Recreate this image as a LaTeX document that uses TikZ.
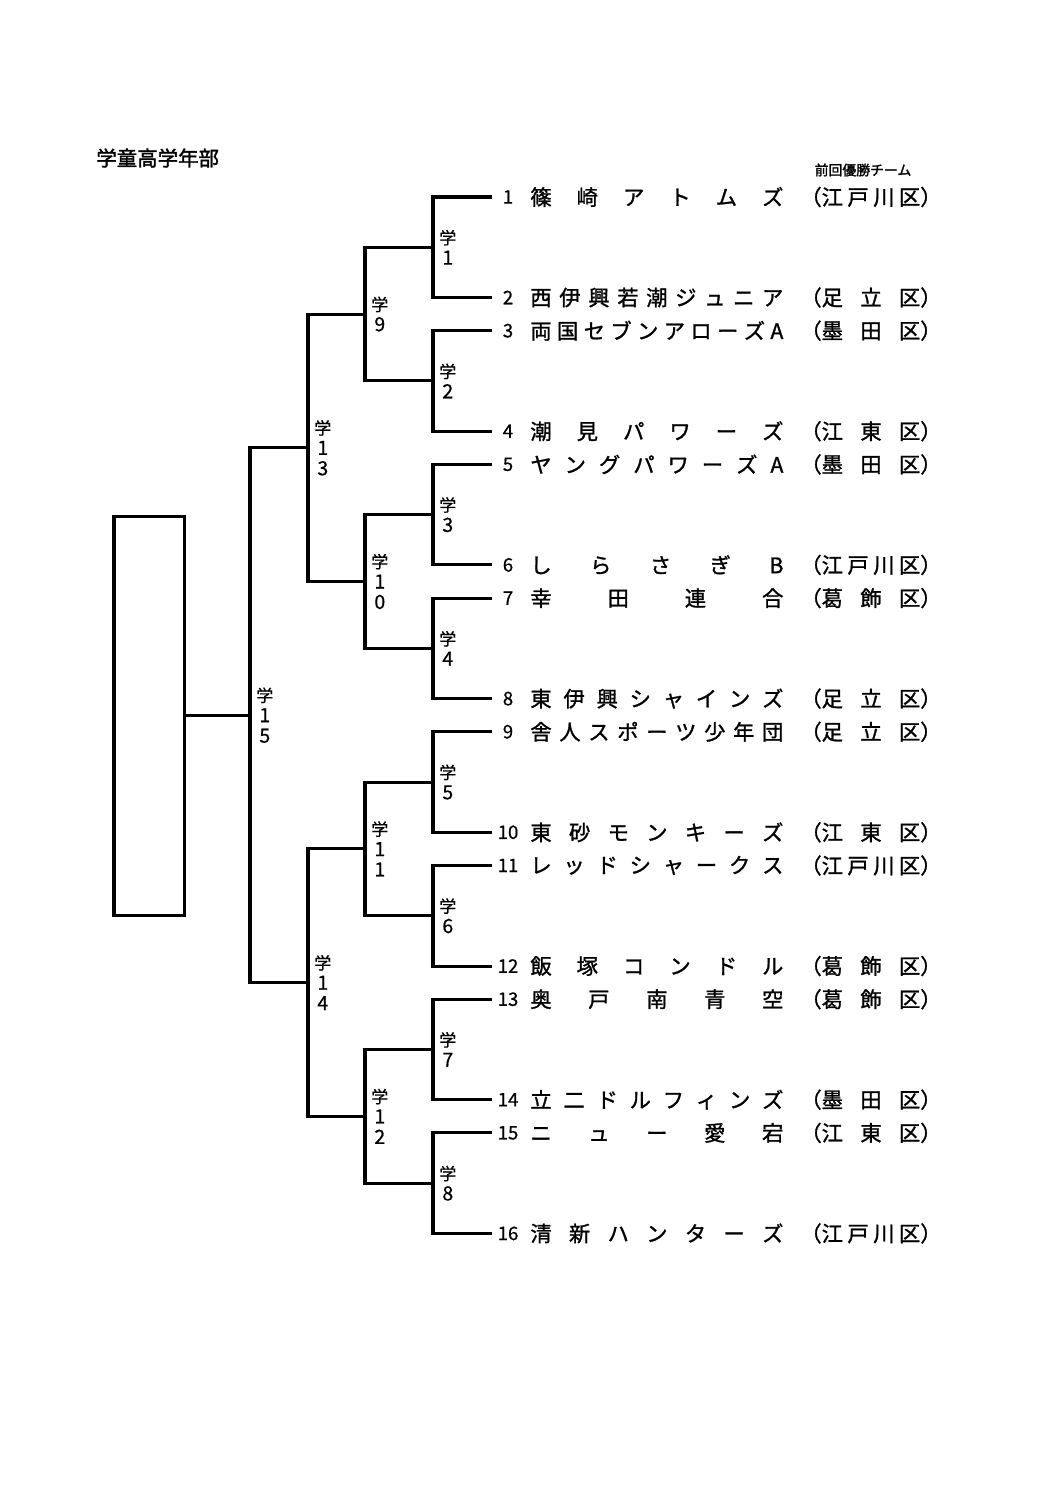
\documentclass[tikz,border=0pt]{standalone}
\usetikzlibrary{calc}
\usepackage{fontspec}
\setmainfont{Noto Sans CJK JP}
\newfontfamily\jpbold[FakeBold=1.8]{Noto Sans CJK JP}
\newfontfamily\jpteam[FakeBold=1.2]{Noto Sans CJK JP}
\newfontfamily\jpnum[FakeBold=0.6]{Noto Sans CJK JP}

% spread the letters of a name over a fixed width
\let\endspread\relax
\def\spreadchars#1{\spreadloop#1\endspread}
\def\spreadloop#1#2{#1\ifx#2\endspread\else\hfill\expandafter\spreadloop\expandafter#2\fi}

\begin{document}
\begin{tikzpicture}[x=0.5627pt,y=-0.5627pt]
\useasboundingbox (0,0) rectangle (1058,1497);

\def\pairgap{100.5}
\def\blockgap{133.7}
\def\firsty{197}

\tikzstyle{bracket}=[line width=1.7pt]
\tikzstyle{num}=[inner sep=0pt,font=\jpnum\fontsize{10.5}{12}\selectfont]
\tikzstyle{team}=[inner sep=0pt,anchor=west,font=\jpteam\fontsize{12}{14}\selectfont]
\tikzstyle{roundlabel}=[inner sep=0pt,anchor=west,align=center,font=\jpnum\fontsize{11}{11.5}\selectfont]
\def\gaku{{\fontsize{9.5}{11.5}\selectfont 学}}

%title
\node[anchor=west,inner sep=0pt,font=\jpbold\fontsize{11.5}{13}\selectfont] (title) at (96,158) {学童高学年部};
\node[inner sep=0pt,font=\jpbold\fontsize{7.8}{9}\selectfont] (lastwin) at (863,170) {前回優勝チーム};

%teams
\foreach \i/\nm/\dst in {1/篠崎アトムズ/江戸川区, 2/西伊興若潮ジュニア/足立区,
  3/両国セブンアローズA/墨田区, 4/潮見パワーズ/江東区,
  5/ヤングパワーズA/墨田区, 6/しらさぎB/江戸川区,
  7/幸田連合/葛飾区, 8/東伊興シャインズ/足立区,
  9/舎人スポーツ少年団/足立区, 10/東砂モンキーズ/江東区,
  11/レッドシャークス/江戸川区, 12/飯塚コンドル/葛飾区,
  13/奥戸南青空/葛飾区, 14/立二ドルフィンズ/墨田区,
  15/ニュー愛宕/江東区, 16/清新ハンターズ/江戸川区} {
  \pgfmathsetmacro\ty{\firsty+\blockgap*floor((\i-1)/2)+\pairgap*mod(\i-1,2)}
  \coordinate (e\i) at (492,\ty);
  \node[num] (n\i) at (508,\ty) {\i};
  \node[team] (t\i) at (530,\ty) {\hbox to 142.4pt{\expandafter\spreadchars\expandafter{\nm}}};
  \node[team] (d\i) at (800,\ty) {（\hbox to 55.5pt{\expandafter\spreadchars\expandafter{\dst}}）};
}

%first round
\foreach \k in {1,...,8} {
  \pgfmathtruncatemacro\a{2*\k-1}
  \pgfmathtruncatemacro\b{2*\k}
  \coordinate (m\k) at ($(e\a)!.5!(e\b)+(-59,0)$);
  \draw[bracket] (e\a) -| (m\k) |- (e\b);
  \node[roundlabel] (r\k) at ($(m\k)+(6,0)$) {\gaku\\\k};
}

%later rounds
\foreach \k/\sh/\lab in {9/68/9, 10/68/1\\0, 11/68/1\\1, 12/68/1\\2,
  13/57/1\\3, 14/57/1\\4, 15/58/1\\5} {
  \pgfmathtruncatemacro\a{2*\k-17}
  \pgfmathtruncatemacro\b{2*\k-16}
  \coordinate (m\k) at ($(m\a)!.5!(m\b)+(-\sh,0)$);
  \draw[bracket] (m\a) -| (m\k) |- (m\b);
  \node[roundlabel] (r\k) at ($(m\k)+(6,0)$) {\gaku\\\lab};
}

%winner box
\node[draw,bracket,minimum width=39.4pt,minimum height=225pt,inner sep=0pt] (champ) at (149,716) {};
\draw[bracket] (m15) -- (champ.east |- m15);

\end{tikzpicture}
\end{document}
